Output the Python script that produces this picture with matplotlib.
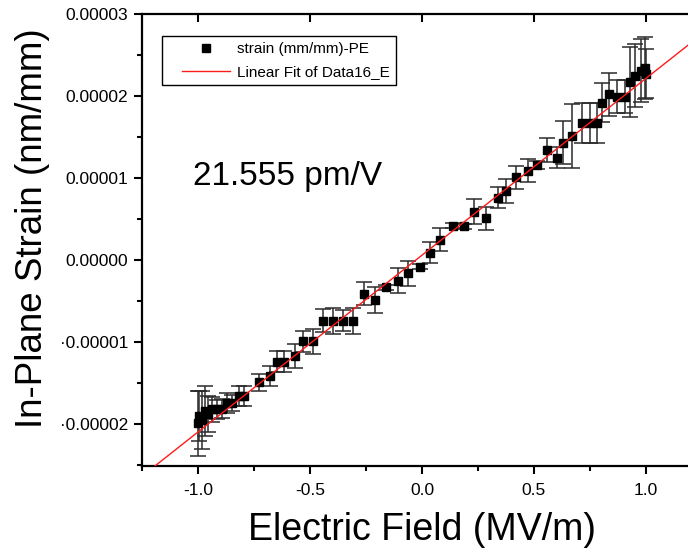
import numpy as np
import matplotlib
matplotlib.use("Agg")
import matplotlib.pyplot as plt
from matplotlib.legend_handler import HandlerLine2D
from matplotlib.ticker import FixedLocator, FixedFormatter, MultipleLocator

plt.rcParams['font.family'] = ['Liberation Sans', 'DejaVu Sans']

# Electric field (MV/m)
field = [-0.998, -0.994, -0.981, -0.967, -0.954, -0.936, -0.914, -0.892,
         -0.869, -0.847, -0.816, -0.794, -0.729, -0.680, -0.647, -0.618,
         -0.569, -0.531, -0.488, -0.444, -0.399, -0.354, -0.308, -0.258,
         -0.210, -0.161, -0.109, -0.064, -0.008, 0.034, 0.082, 0.138,
         0.186, 0.233, 0.287, 0.339, 0.376, 0.421, 0.471, 0.513,
         0.558, 0.603, 0.629, 0.670, 0.714, 0.748, 0.781, 0.804,
         0.837, 0.872, 0.908, 0.930, 0.952, 0.979, 0.997, 1.000]

# In-plane strain (units of 1e-5)
strain_e5 = [-1.99, -1.90, -1.95, -1.84, -1.88, -1.82, -1.82, -1.81,
             -1.74, -1.74, -1.66, -1.66, -1.49, -1.41, -1.24, -1.24,
             -1.17, -0.99, -0.99, -0.74, -0.74, -0.74, -0.74, -0.41,
             -0.49, -0.33, -0.25, -0.16, -0.08, 0.09, 0.25, 0.42,
             0.41, 0.59, 0.51, 0.76, 0.84, 1.01, 1.09, 1.16,
             1.34, 1.25, 1.43, 1.51, 1.67, 1.67, 1.67, 1.92,
             2.02, 1.99, 1.99, 2.17, 2.25, 2.31, 2.34, 2.27]

# Standard deviation of strain (units of 1e-5)
error_e5 = [0.40, 0.30, 0.35, 0.30, 0.22, 0.15, 0.12, 0.12,
            0.12, 0.10, 0.12, 0.12, 0.10, 0.12, 0.13, 0.13,
            0.15, 0.13, 0.15, 0.14, 0.16, 0.13, 0.16, 0.14,
            0.16, 0.03, 0.15, 0.15, 0.03, 0.13, 0.14, 0.03,
            0.03, 0.15, 0.14, 0.13, 0.15, 0.14, 0.14, 0.05,
            0.15, 0.13, 0.26, 0.39, 0.24, 0.24, 0.24, 0.24,
            0.26, 0.20, 0.20, 0.43, 0.38, 0.38, 0.38, 0.30]

# Linear fit: d = 21.555 pm/V
slope_pm_per_V = 21.555
intercept = 6.0e-7

y_ticks = [-2e-5, -1e-5, 0.0, 1e-5, 2e-5, 3e-5]
y_tick_labels = ["\u00b70.00002", "\u00b70.00001", "0.00000", "0.00001", "0.00002", "0.00003"]
x_ticks = [-1.0, -0.5, 0.0, 0.5, 1.0]
x_tick_labels = ["-1.0", "-0.5", "0.0", "0.5", "1.0"]

x = np.array(field)
y = np.array(strain_e5) * 1e-5
yerr = np.array(error_e5) * 1e-5
slope = slope_pm_per_V * 1e-12 * 1e6  # strain per (MV/m)

W, H = 688, 552
fig = plt.figure(figsize=(W / 100, H / 100), dpi=100)
ax = fig.add_axes([142 / W, (H - 466) / H, 560 / W, 452 / H])

xlim = (-1.25, 1.25)
ylim = (-2.51e-5, 3e-5)

ax.errorbar(x, y, yerr=yerr, fmt='none', ecolor='#2b2b2b', elinewidth=1.1,
            capsize=6, capthick=1.1, zorder=2)
pts, = ax.plot(x, y, 's', color='black', markersize=6.2, zorder=3,
               label='strain (mm/mm)-PE')
xf = np.linspace(xlim[0], xlim[1], 200)
fit, = ax.plot(xf, slope * xf + intercept, color='#ff1a1a', lw=1.0, zorder=4,
               label='Linear Fit of Data16_E')

ax.set_xlim(*xlim)
ax.set_ylim(*ylim)

ax.xaxis.set_major_locator(FixedLocator(x_ticks))
ax.xaxis.set_major_formatter(FixedFormatter(x_tick_labels))
ax.xaxis.set_minor_locator(MultipleLocator(0.25))
ax.yaxis.set_major_locator(FixedLocator(y_ticks))
ax.yaxis.set_major_formatter(FixedFormatter(y_tick_labels))
ax.yaxis.set_minor_locator(MultipleLocator(0.5e-5))

for s in ax.spines.values():
    s.set_linewidth(1.6)

ax.tick_params(axis='both', which='major', direction='out', length=6, width=1.5,
               labelsize=12.5, pad=4)
ax.tick_params(axis='both', which='minor', direction='out', length=3.5, width=1.5)
ax.tick_params(axis='x', which='major', pad=6)

# inward ticks on the top spine
sec = ax.secondary_xaxis('top')
sec.set_xticks(x_ticks)
sec.tick_params(direction='in', length=6, width=1.5, labeltop=False)
sec.spines['top'].set_visible(False)

ax.set_xlabel('Electric Field (MV/m)', fontsize=27, labelpad=10)
ax.set_ylabel('In-Plane Strain (nm/mm)', fontsize=26.5)
ax.yaxis.set_label_coords(-0.165, 0.527)

ax.text(-1.021, 0.92e-5, '21.555 pm/V', fontsize=24, ha='left', va='baseline')

fs = 11
handler = HandlerLine2D(xpad=14 / (fs * 100 / 72))
leg = ax.legend(handles=[pts, fit], loc='upper left',
                bbox_to_anchor=(20 / 560, (466 - 36) / 452), borderaxespad=0,
                fontsize=fs, frameon=True, fancybox=False, framealpha=1,
                edgecolor='black', borderpad=0.4, labelspacing=0.6,
                handlelength=62 / (fs * 100 / 72), handletextpad=0.43,
                numpoints=1, handler_map={pts: handler, fit: handler})
leg.get_frame().set_linewidth(1.0)

fig.savefig('out.png', dpi=100)
